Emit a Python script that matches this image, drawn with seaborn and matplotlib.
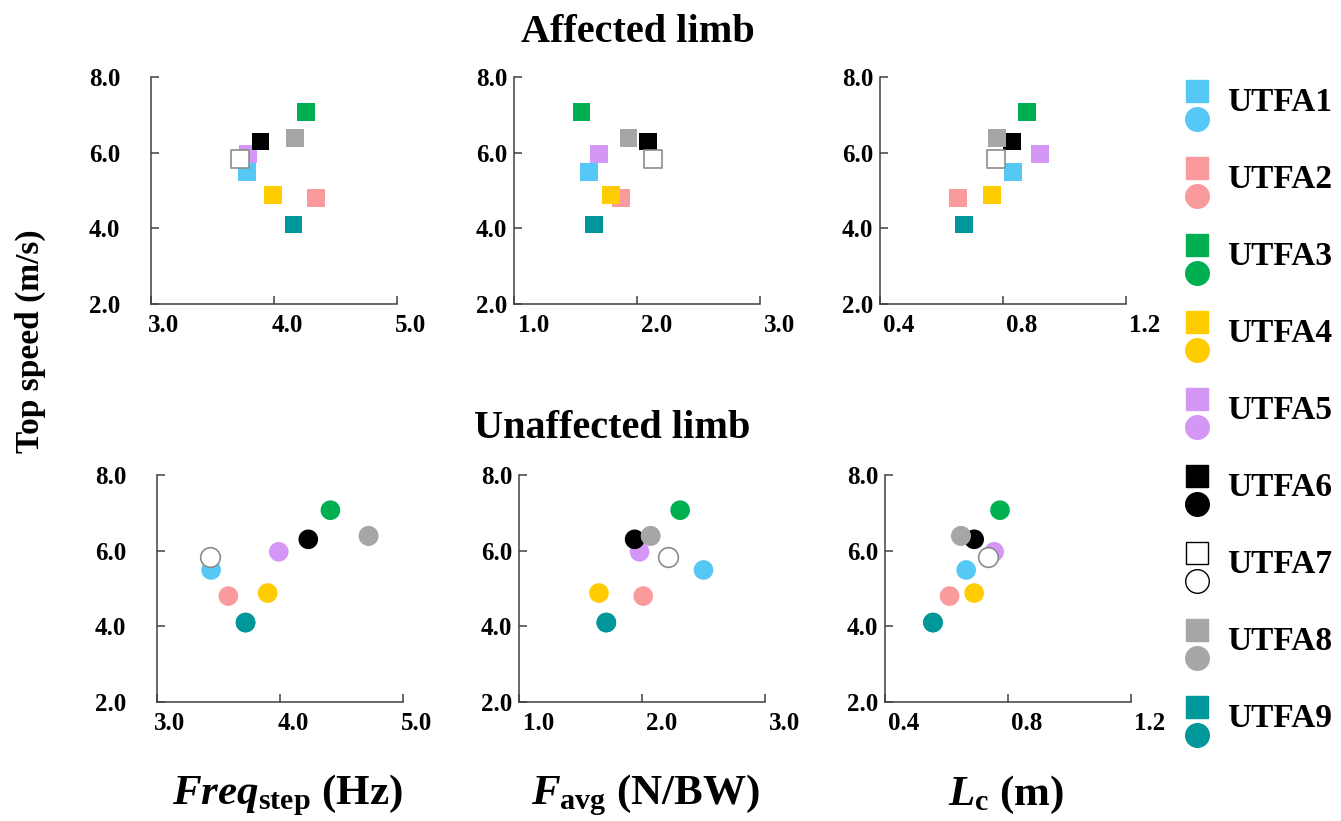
import matplotlib
matplotlib.use("Agg")
import matplotlib.pyplot as plt
import matplotlib.transforms as mtransforms
from matplotlib.legend_handler import HandlerBase
from matplotlib.lines import Line2D
import pandas as pd
import seaborn as sns

# ----------------------------------------------------------
# Data
# ----------------------------------------------------------

subjects = ["UTFA1", "UTFA2", "UTFA3", "UTFA4", "UTFA5",
            "UTFA6", "UTFA7", "UTFA8", "UTFA9"]
top_speed = [5.49, 4.80, 7.07, 4.88, 5.97, 6.30, 5.83, 6.39, 4.10]

freq_aff = [3.78, 4.34, 4.26, 3.99, 3.79, 3.89, 3.72, 4.17, 4.16]
favg_aff = [1.61, 1.87, 1.55, 1.79, 1.69, 2.09, 2.13, 1.93, 1.65]
lc_aff = [0.833, 0.654, 0.878, 0.764, 0.920, 0.830, 0.778, 0.780, 0.673]

freq_unaff = [3.44, 3.58, 4.41, 3.90, 3.99, 4.23, 3.43, 4.72, 3.72]
favg_unaff = [2.50, 2.01, 2.31, 1.65, 1.98, 1.94, 2.21, 2.07, 1.71]
lc_unaff = [0.664, 0.610, 0.774, 0.690, 0.755, 0.690, 0.735, 0.647, 0.556]

colors = ["#55C8F6", "#FA9A9C", "#00B050", "#FFCC00", "#D597F5",
          "#000000", "#FFFFFF", "#A6A6A6", "#00979A"]
edges = ["none"] * 6 + ["#8C8C8C"] + ["none"] * 2

x_ticks = [[3.0, 4.0, 5.0], [1.0, 2.0, 3.0], [0.4, 0.8, 1.2]]
y_ticks = [2.0, 4.0, 6.0, 8.0]

df = pd.DataFrame({
    "subject": subjects,
    "speed": top_speed,
    "freq_aff": freq_aff, "favg_aff": favg_aff, "lc_aff": lc_aff,
    "freq_unaff": freq_unaff, "favg_unaff": favg_unaff, "lc_unaff": lc_unaff,
})
palette = dict(zip(subjects, colors))

# ----------------------------------------------------------
# Style
# ----------------------------------------------------------

sns.set_style("white")
plt.rcParams["font.family"] = ["Liberation Serif", "DejaVu Serif"]
plt.rcParams["font.weight"] = "bold"
plt.rcParams["text.color"] = "black"
plt.rcParams["xtick.color"] = "black"
plt.rcParams["ytick.color"] = "black"
plt.rcParams["mathtext.fontset"] = "custom"
plt.rcParams["mathtext.rm"] = "Liberation Serif:bold"
plt.rcParams["mathtext.bf"] = "Liberation Serif:bold"
plt.rcParams["mathtext.it"] = "Liberation Serif:italic:bold"

W, H = 1341, 821
fig = plt.figure(figsize=(W / 100, H / 100), dpi=100)

# axes boxes in pixels: left x, top y of the axis frame
panels = [
    ("freq_aff", 151, 77, 0), ("favg_aff", 514, 77, 1), ("lc_aff", 880, 77, 2),
    ("freq_unaff", 157, 475, 0), ("favg_unaff", 519, 475, 1), ("lc_unaff", 885, 475, 2),
]
label_shift = [13, 20, 19]
ylab_pad = [22, 5, 5]

for col, px, py, k in panels:
    ax = fig.add_axes([px / W, 1 - (py + 227) / H, 246 / W, 227 / H])
    marker = "s" if col.endswith("_aff") else "o"
    size = 160 if marker == "s" else 200
    open_ = df[df["subject"] == "UTFA7"]
    sns.scatterplot(data=df, x=col, y="speed", hue="subject", palette=palette,
                    marker=marker, s=size, linewidth=0, legend=False, ax=ax,
                    zorder=3)
    # redraw the open marker with its outline
    sns.scatterplot(data=open_, x=col, y="speed", marker=marker, s=size,
                    color="white", edgecolor="#8C8C8C", linewidth=1.2,
                    legend=False, ax=ax, zorder=4)
    # keep later subjects on top of UTFA7
    sns.scatterplot(data=df[df["subject"].isin(["UTFA8", "UTFA9"])], x=col,
                    y="speed", hue="subject", palette=palette, marker=marker,
                    s=size, linewidth=0, legend=False, ax=ax, zorder=5)

    ax.set_xlim(x_ticks[k][0], x_ticks[k][-1])
    ax.set_ylim(2.0, 8.0)
    ax.set_xticks(x_ticks[k])
    ax.set_yticks(y_ticks)
    ax.set_xticklabels([f"{v:.1f}" for v in x_ticks[k]])
    ax.set_yticklabels([f"{v:.1f}" for v in y_ticks])
    ax.set_xlabel("")
    ax.set_ylabel("")
    ax.tick_params(axis="both", direction="in", length=6, width=1.1,
                   color="#404040", labelcolor="black", labelsize=18,
                   bottom=True, left=True)
    ax.tick_params(axis="x", pad=7)
    ax.tick_params(axis="y", pad=ylab_pad[k])
    for side in ["top", "right"]:
        ax.spines[side].set_visible(False)
    for side in ["left", "bottom"]:
        ax.spines[side].set_color("#404040")
        ax.spines[side].set_linewidth(1.1)
    ax.grid(False)
    offset = mtransforms.ScaledTranslation(label_shift[k] / 100, 0,
                                           fig.dpi_scale_trans)
    for lab in ax.get_xticklabels():
        lab.set_transform(lab.get_transform() + offset)

# ----------------------------------------------------------
# Titles and axis labels
# ----------------------------------------------------------

fig.text(638 / W, 1 - 32 / H, "Affected limb", ha="center", va="center",
         fontsize=29, fontweight="bold")
fig.text(612 / W, 1 - 428 / H, "Unaffected limb", ha="center", va="center",
         fontsize=29, fontweight="bold")
fig.text(30 / W, 1 - 341 / H, "Top speed (m/s)", rotation=90, ha="center",
         va="center", fontsize=24, fontweight="bold")

fig.text(287 / W, 1 - 795 / H, r"$Freq_{\rm step}$ (Hz)", ha="center",
         va="center", fontsize=31, fontweight="bold")
fig.text(646 / W, 1 - 795 / H, r"$F_{\rm avg}$ (N/BW)", ha="center",
         va="center", fontsize=31, fontweight="bold")
fig.text(1006 / W, 1 - 795 / H, r"$L_{\rm c}$ (m)", ha="center",
         va="center", fontsize=31, fontweight="bold")

# ----------------------------------------------------------
# Legend: square (affected) above circle (unaffected)
# ----------------------------------------------------------


class SquareCircleHandler(HandlerBase):
    def create_artists(self, legend, orig_handle, xdescent, ydescent,
                       width, height, fontsize, trans):
        face, edge = orig_handle
        cx = width / 2 - xdescent
        ec = face if edge == "none" else "black"
        sq = Line2D([cx], [14.5], marker="s", markersize=16.5,
                    markerfacecolor=face, markeredgecolor=ec,
                    markeredgewidth=1.0, linestyle="none", transform=trans)
        ci = Line2D([cx], [-5.5], marker="o", markersize=17,
                    markerfacecolor=face, markeredgecolor=ec,
                    markeredgewidth=1.0, linestyle="none", transform=trans)
        return [sq, ci]


handles = [(c, e) for c, e in zip(colors, edges)]
fig.legend(handles, subjects, handler_map={tuple: SquareCircleHandler()},
           loc="upper left", bbox_to_anchor=(1180 / W, 1 - 85 / H),
           frameon=False, handlelength=1.0, handleheight=1.0,
           handletextpad=0.42, labelspacing=1.31, borderpad=0,
           borderaxespad=0, prop={"weight": "bold", "size": 24})

fig.savefig("out.png", dpi=100)
